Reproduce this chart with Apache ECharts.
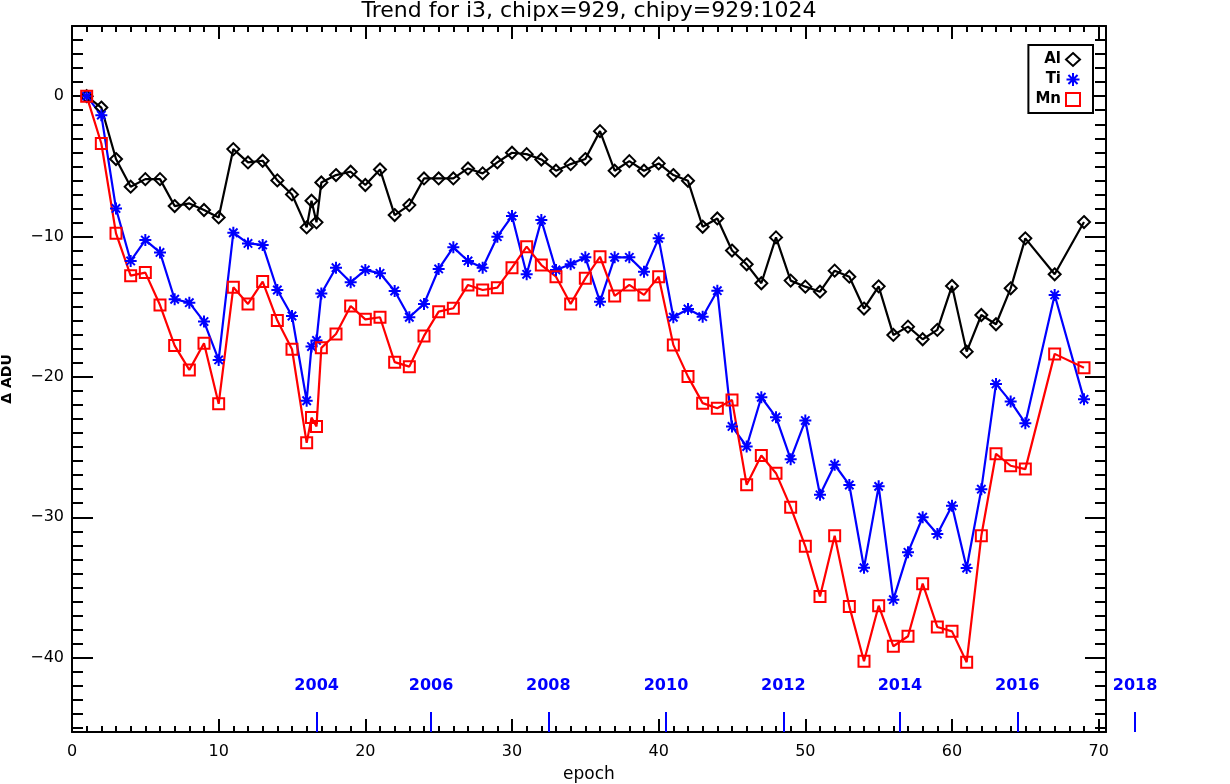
<!DOCTYPE html>
<html><head><meta charset="utf-8">
<script src="https://cdn.jsdelivr.net/npm/echarts@6/dist/echarts.min.js"></script>
<style>html,body{margin:0;padding:0;background:#fff}#c{width:1230px;height:784px}</style>
</head><body><div id="c"></div>
<script>
// ---------- data ----------
const epochs = [1,2,3,4,5,6,7,8,9,10,11,12,13,14,15,16,16.33,16.67,17,18,19,20,21,22,23,24,25,26,27,28,29,30,
  31,32,33,34,35,36,37,38,39,40,41,42,43,44,45,46,47,48,49,50,51,52,53,54,55,56,57,58,59,60,61,62,63,64,65,67,69];
const al = [0,-0.81,-4.48,-6.45,-5.91,-5.91,-7.83,-7.64,-8.11,-8.64,-3.77,-4.72,-4.60,-6.0,-7.0,-9.35,-7.45,-8.99,-6.15,
  -5.62,-5.38,-6.33,-5.22,-8.47,-7.76,-5.86,-5.86,-5.86,-5.15,-5.5,-4.72,-4.03,-4.13,-4.51,-5.31,-4.84,-4.48,-2.49,
  -5.31,-4.63,-5.31,-4.79,-5.62,-6.03,-9.30,-8.71,-11.0,-11.98,-13.33,-10.06,-13.14,-13.57,-13.93,-12.43,-12.86,
  -15.13,-13.55,-17.01,-16.42,-17.32,-16.65,-13.52,-18.2,-15.59,-16.25,-13.69,-10.13,-12.69,-8.97];
const ti = [0,-1.35,-8.0,-11.74,-10.25,-11.13,-14.47,-14.71,-16.06,-18.79,-9.73,-10.49,-10.6,-13.81,-15.66,-21.7,-17.84,-17.4,
  -14.06,-12.22,-13.26,-12.38,-12.62,-13.88,-15.75,-14.8,-12.31,-10.77,-11.74,-12.22,-10.01,-8.54,-12.69,-8.83,-12.38,
  -11.98,-11.48,-14.64,-11.48,-11.48,-12.5,-10.13,-15.75,-15.16,-15.71,-13.86,-23.53,-24.96,-21.45,-22.87,-25.86,
  -23.11,-28.4,-26.26,-27.7,-33.6,-27.8,-35.87,-32.5,-30.0,-31.2,-29.18,-33.62,-28.0,-20.5,-21.76,-23.3,-14.16,-21.6];
const mn = [0,-3.37,-9.77,-12.79,-12.57,-14.88,-17.77,-19.5,-17.6,-21.92,-13.62,-14.8,-13.21,-15.99,-18.03,-24.7,-22.9,-23.53,
  -17.93,-16.94,-14.95,-15.9,-15.75,-18.95,-19.27,-17.08,-15.35,-15.11,-13.45,-13.81,-13.64,-12.22,-10.72,-12.03,-12.86,
  -14.8,-12.98,-11.44,-14.23,-13.45,-14.16,-12.86,-17.72,-19.98,-21.87,-22.23,-21.64,-27.69,-25.6,-26.86,-29.28,
  -32.07,-35.64,-31.32,-36.35,-40.26,-36.3,-39.19,-38.48,-34.73,-37.82,-38.13,-40.33,-31.32,-25.48,-26.33,-26.57,-18.36,-19.34];
const seriesNames = ['Al','Ti','Mn'];
const xMajorTicks = [0,10,20,30,40,50,60,70];
const yMajorTicks = [-40,-30,-20,-10,0];
const yearLabels = ['2004','2006','2008','2010','2012','2014','2016','2018','2020'];
const yearEpochs = [16.68,24.48,32.48,40.5,48.5,56.45,64.45,72.48,80.5];
const titleText = 'Trend for i3, chipx=929, chipy=929:1024';

// ---------- layout / style ----------
const GL = 72, GT = 26, GW = 1034, GH = 706;
const XMAX = 70.5, YMIN = -45.3, YMAX = 5, XYEARMAX = 82;
const FONT = 'DejaVu Sans';
const xMinorTicks = []; for (let v = 0; v <= 70; v++) xMinorTicks.push(v);
const yMinorTicks = []; for (let v = -45; v <= 5; v++) yMinorTicks.push(v);
const ASTER = 'path://M5,0L5,10M0,5L10,5M1.5,1.5L8.5,8.5M1.5,8.5L8.5,1.5';
const colors = {Al:'#000000', Ti:'#0000ff', Mn:'#ff0000'};
const symbols = {Al:'diamond', Ti:ASTER, Mn:'rect'};
const symSize = {Al:12, Ti:12, Mn:11};
const values = {Al:al, Ti:ti, Mn:mn};

function xAx(opts) {
  return Object.assign({
    type:'value', gridIndex:0, min:0, max:XMAX, position:'bottom',
    axisLine:{show:false, onZero:false, lineStyle:{color:'#000', width:2}},
    axisTick:{show:true, inside:true, length:13, lineStyle:{color:'#000', width:2}},
    axisLabel:{show:false}, splitLine:{show:false}
  }, opts);
}
function yAx(opts) {
  return Object.assign({
    type:'value', gridIndex:0, min:YMIN, max:YMAX, position:'left',
    axisLine:{show:false, onZero:false, lineStyle:{color:'#000', width:2}},
    axisTick:{show:true, inside:true, length:21, lineStyle:{color:'#000', width:2}},
    axisLabel:{show:false}, splitLine:{show:false}
  }, opts);
}

const option = {
  animation:false,
  backgroundColor:'#ffffff',
  title:{text:titleText, left:589, top:0, padding:0, textAlign:'center',
    textStyle:{fontFamily:FONT, fontWeight:'normal', fontSize:22, color:'#000'}},
  grid:[
    {left:GL, top:GT, width:GW, height:GH, containLabel:false, outerBoundsMode:'none'},
    {left:GL, top:GT, width:XYEARMAX*GW/XMAX, height:GH, containLabel:false, outerBoundsMode:'none'}
  ],
  legend:{
    orient:'vertical', right:137, top:45, align:'right', selectedMode:false,
    itemWidth:14, itemHeight:13, itemGap:5, padding:[7,12,6,7],
    borderColor:'#000', borderWidth:2, backgroundColor:'#fff',
    textStyle:{fontFamily:FONT, fontWeight:'bold', fontSize:15, color:'#000'},
    data: seriesNames.map(n => ({name:n, icon:symbols[n],
      itemStyle:{color:'rgba(0,0,0,0)', borderColor:colors[n], borderWidth:2}}))
  },
  xAxis:[
    xAx({axisLine:{show:true, onZero:false, lineStyle:{color:'#000', width:2}},
      axisTick:{show:true, inside:true, length:13, customValues:xMajorTicks, lineStyle:{color:'#000', width:2}},
      axisLabel:{show:true, customValues:xMajorTicks, margin:12, fontFamily:FONT, fontSize:16, color:'#000'},
      name:'epoch', nameLocation:'middle', nameGap:34,
      nameTextStyle:{fontFamily:FONT, fontSize:17, color:'#000'}}),
    xAx({axisTick:{show:true, inside:true, length:6, customValues:xMinorTicks, lineStyle:{color:'#000', width:2}}}),
    xAx({position:'top', axisLine:{show:true, onZero:false, lineStyle:{color:'#000', width:2}},
      axisTick:{show:true, inside:true, length:13, customValues:xMajorTicks, lineStyle:{color:'#000', width:2}}}),
    xAx({position:'top', axisTick:{show:true, inside:true, length:6, customValues:xMinorTicks, lineStyle:{color:'#000', width:2}}}),
    xAx({gridIndex:1, max:XYEARMAX,
      axisTick:{show:true, inside:true, length:20, customValues:yearEpochs, lineStyle:{color:'#0000ff', width:2}},
      axisLabel:{show:true, inside:true, customValues:yearEpochs, margin:38, fontFamily:FONT, fontWeight:'bold',
        fontSize:16, color:'#0000ff', hideOverlap:false,
        formatter: v => { let bi = 0; yearEpochs.forEach((e,i)=>{ if (Math.abs(e-v) < Math.abs(yearEpochs[bi]-v)) bi = i; }); return yearLabels[bi]; }}})
  ],
  yAxis:[
    yAx({axisLine:{show:true, onZero:false, lineStyle:{color:'#000', width:2}},
      axisTick:{show:true, inside:true, length:21, customValues:yMajorTicks, lineStyle:{color:'#000', width:2}},
      axisLabel:{show:true, customValues:yMajorTicks, margin:8, fontFamily:FONT, fontSize:16, color:'#000',
        formatter: v => String(v).replace('-', '\u2212')},
      name:'\u0394 ADU', nameLocation:'middle', nameGap:58, nameRotate:90,
      nameTextStyle:{fontFamily:FONT, fontWeight:'bold', fontSize:14, color:'#000'}}),
    yAx({axisTick:{show:true, inside:true, length:11, customValues:yMinorTicks, lineStyle:{color:'#000', width:2}}}),
    yAx({position:'right', axisLine:{show:true, onZero:false, lineStyle:{color:'#000', width:2}},
      axisTick:{show:true, inside:true, length:21, customValues:yMajorTicks, lineStyle:{color:'#000', width:2}}}),
    yAx({position:'right', axisTick:{show:true, inside:true, length:11, customValues:yMinorTicks, lineStyle:{color:'#000', width:2}}}),
    yAx({gridIndex:1, show:false})
  ],
  series: seriesNames.map(n => ({
    type:'line', name:n, xAxisIndex:0, yAxisIndex:0,
    data: epochs.map((e,i) => [e, values[n][i]]),
    symbol: symbols[n], symbolSize: symSize[n], showSymbol:true,
    lineStyle:{color:colors[n], width:2.2},
    itemStyle:{color:'rgba(0,0,0,0)', borderColor:colors[n], borderWidth:2},
    emphasis:{disabled:true}, silent:true, clip:true
  }))
};
const chart = echarts.init(document.getElementById('c'), null, {renderer:'canvas'});
chart.setOption(option);
</script></body></html>
